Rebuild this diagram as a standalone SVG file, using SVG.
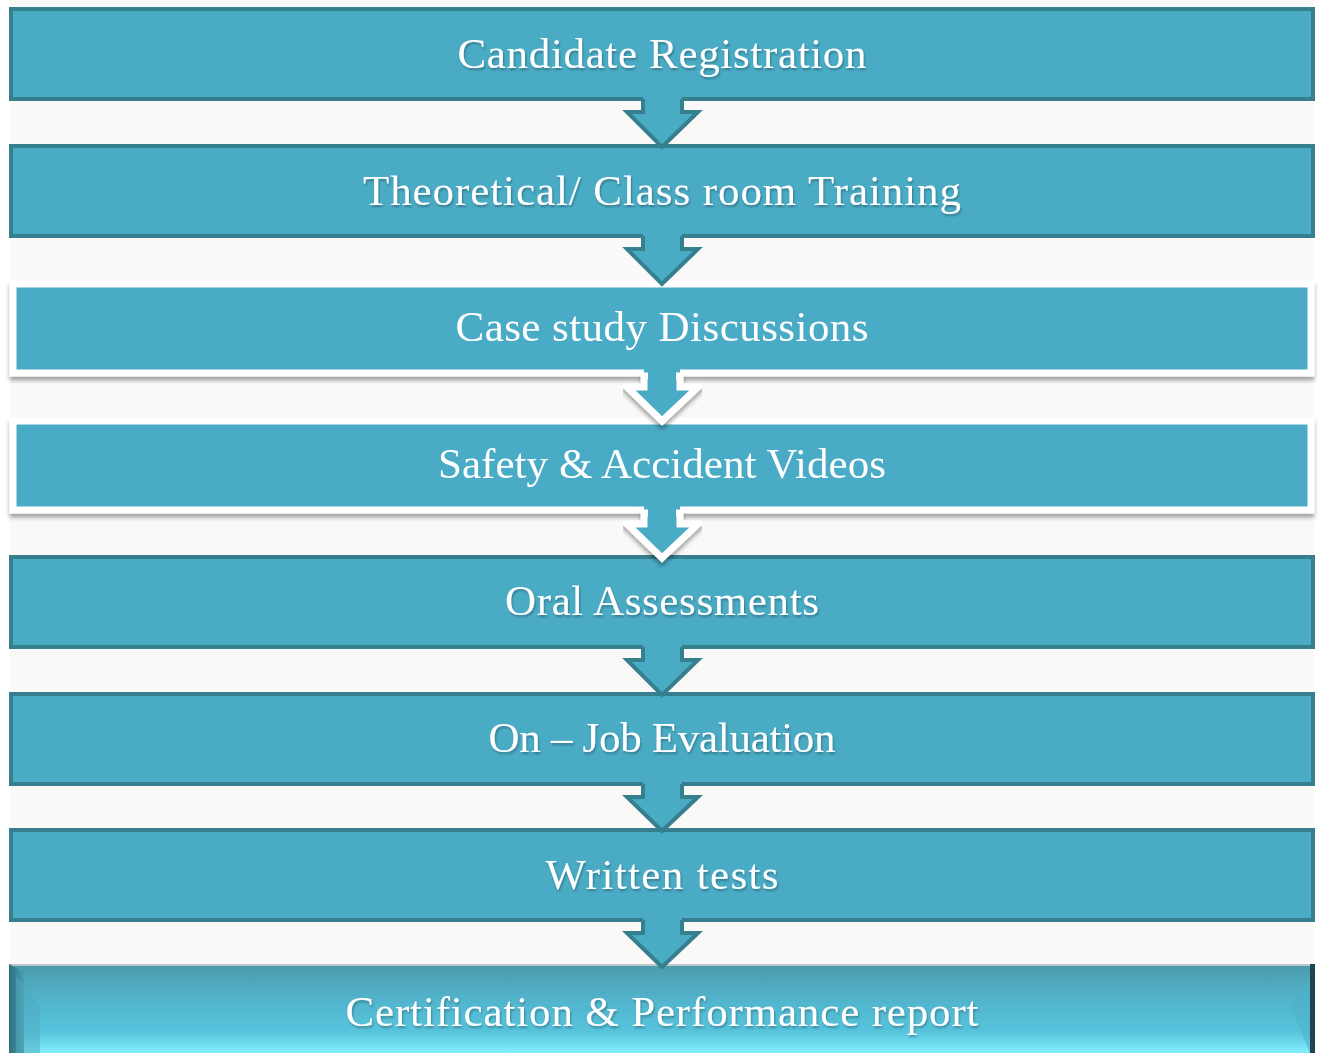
<svg xmlns="http://www.w3.org/2000/svg" width="1323" height="1053" viewBox="0 0 1323 1053">
<style>
.box{fill:#4aabc5;stroke:#367f8f;stroke-width:4}
.wbox{fill:#4aabc5;stroke:#ffffff;stroke-width:7}
.lbl{font-family:"Liberation Serif","DejaVu Serif",serif;font-size:43px;fill:#ffffff;text-anchor:middle}
.arrF{fill:#4aabc5}
.arrS{fill:none;stroke:#367f8f;stroke-width:4;stroke-linejoin:miter}
.arrW{fill:none;stroke:#ffffff;stroke-width:7;stroke-linejoin:miter}
</style>
<defs>
<filter id="sh" x="-5%" y="-20%" width="110%" height="150%">
<feGaussianBlur in="SourceAlpha" stdDeviation="2"/>
<feOffset dx="0" dy="4" result="o"/>
<feComponentTransfer><feFuncA type="linear" slope="0.35"/></feComponentTransfer>
<feMerge><feMergeNode/><feMergeNode in="SourceGraphic"/></feMerge>
</filter>
<filter id="ts" x="-5%" y="-20%" width="110%" height="150%">
<feGaussianBlur in="SourceAlpha" stdDeviation="1"/>
<feOffset dx="1" dy="2"/>
<feComponentTransfer><feFuncA type="linear" slope="0.3"/></feComponentTransfer>
<feMerge><feMergeNode/><feMergeNode in="SourceGraphic"/></feMerge>
</filter>
<linearGradient id="bg8" x1="0" y1="0" x2="0" y2="1">
<stop offset="0" stop-color="#4c9aab"/>
<stop offset="0.45" stop-color="#52b7cf"/>
<stop offset="0.75" stop-color="#56c3dc"/>
<stop offset="1" stop-color="#84eefd"/>
</linearGradient>
<linearGradient id="lb" x1="0" y1="0" x2="1" y2="0">
<stop offset="0" stop-color="#2f6f7d"/>
<stop offset="1" stop-color="#4a9fb2"/>
</linearGradient>
</defs>
<rect x="0" y="0" width="1323" height="1053" fill="#ffffff"/>
<rect x="10" y="0" width="1304" height="965" fill="#faf9f8"/>

<g id="n1"><rect class="box" x="11" y="9" width="1302" height="90"/><text class="lbl" x="662" y="68" textLength="409" filter="url(#ts)">Candidate Registration</text></g>
<g id="n2"><rect class="box" x="11" y="146" width="1302" height="90"/><text class="lbl" x="662" y="205" textLength="598" filter="url(#ts)">Theoretical/ Class room Training</text></g>
<g id="n3" filter="url(#sh)"><rect class="wbox" x="13" y="284" width="1298" height="89"/><text class="lbl" x="662" y="341" textLength="413">Case study Discussions</text></g>
<g id="n4" filter="url(#sh)"><rect class="wbox" x="13" y="421" width="1298" height="89"/><text class="lbl" x="662" y="478" textLength="448">Safety &amp; Accident Videos</text></g>
<g id="n5"><rect class="box" x="11" y="557" width="1302" height="90"/><text class="lbl" x="662" y="615" textLength="314" filter="url(#ts)">Oral Assessments</text></g>
<g id="n6"><rect class="box" x="11" y="694" width="1302" height="90"/><text class="lbl" x="662" y="752" textLength="347" filter="url(#ts)">On – Job Evaluation</text></g>
<g id="n7"><rect class="box" x="11" y="830" width="1302" height="90"/><text class="lbl" x="662" y="889" textLength="233" filter="url(#ts)">Written tests</text></g>
<g id="n8">
<rect x="9" y="964" width="1306" height="89" fill="url(#bg8)"/>
<rect x="9" y="964" width="1306" height="2" fill="#bcc8cc"/>
<polygon points="9,964 24,972 24,1053 9,1053" fill="url(#lb)"/>
<polygon points="16,976 40,1005 40,1053 16,1053" fill="#4ea9bd" opacity="0.5"/>
<polygon points="1290,1005 1310,976 1310,1053" fill="#4eb0c8" opacity="0.6"/>
<rect x="1310" y="964" width="5" height="89" fill="#1f4450"/>
<text class="lbl" x="662" y="1026" textLength="633" filter="url(#ts)">Certification &amp; Performance report</text>
</g>

<g id="connectors">
<polygon class="arrF" points="643,96 643,112 627,112 662,147 698,112 682,112 682,96"/>
<polyline class="arrS" points="645,101 643,101 643,112 627,112 662,147 698,112 682,112 682,101 680,101"/>
<polygon class="arrF" points="643,233 643,249 627,249 662,284 698,249 682,249 682,233"/>
<polyline class="arrS" points="645,238 643,238 643,249 627,249 662,284 698,249 682,249 682,238 680,238"/>
<g filter="url(#sh)">
<polygon class="arrF" points="644,369 644,387 627,387 662,421 698,387 680,387 680,369"/>
<polyline class="arrW" points="648,376 644,376 644,387 627,387 662,421 698,387 680,387 680,376 676,376"/>
</g>
<g filter="url(#sh)">
<polygon class="arrF" points="644,506 644,524 627,524 662,558 698,524 680,524 680,506"/>
<polyline class="arrW" points="648,513 644,513 644,524 627,524 662,558 698,524 680,524 680,513 676,513"/>
</g>
<polygon class="arrF" points="643,644 643,660 627,660 662,695 698,660 682,660 682,644"/>
<polyline class="arrS" points="645,649 643,649 643,660 627,660 662,695 698,660 682,660 682,649 680,649"/>
<polygon class="arrF" points="643,781 643,797 627,797 662,831 698,797 682,797 682,781"/>
<polyline class="arrS" points="645,786 643,786 643,797 627,797 662,831 698,797 682,797 682,786 680,786"/>
<polygon class="arrF" points="643,917 643,933 627,933 662,967 698,933 682,933 682,917"/>
<polyline class="arrS" points="645,922 643,922 643,933 627,933 662,967 698,933 682,933 682,922 680,922"/>
</g>
</svg>
